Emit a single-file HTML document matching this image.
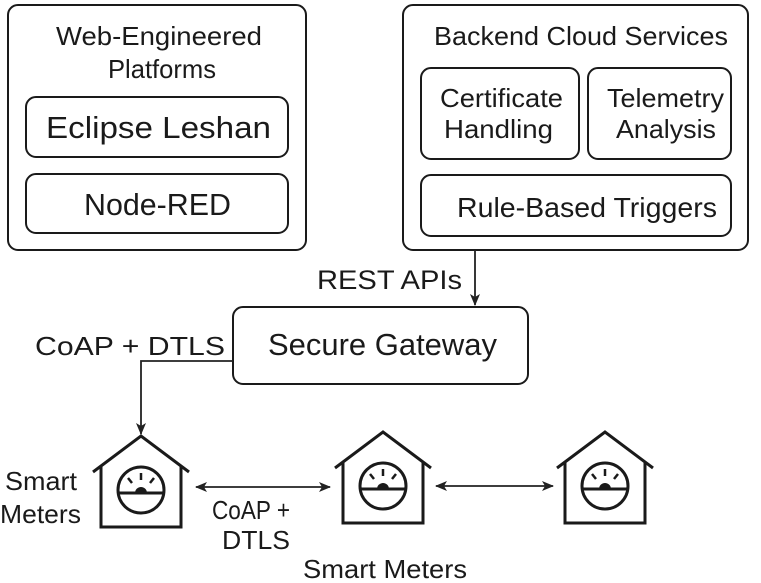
<!DOCTYPE html>
<html><head><meta charset="utf-8"><style>
html,body{margin:0;padding:0;background:#fff;}
svg{display:block;font-family:"Liberation Sans",Arial,sans-serif;}
</style></head><body>
<svg width="761" height="583" viewBox="0 0 761 583" xmlns="http://www.w3.org/2000/svg">
<defs>
<marker id="ah" markerWidth="12" markerHeight="10" refX="11" refY="5" orient="auto-start-reverse" markerUnits="userSpaceOnUse">
<path d="M0,0 L12,5 L0,10 L3,5 Z" fill="#222"/></marker>
<g id="house">
<polyline points="-48,36 0,0 48,36" fill="none" stroke="#1a1a1a" stroke-width="3"/>
<polyline points="-40,30 -40,91 40,91 40,30" fill="none" stroke="#1a1a1a" stroke-width="3"/>
<circle cx="0" cy="54" r="23" fill="none" stroke="#1a1a1a" stroke-width="3"/>
<line x1="-23" y1="57" x2="23" y2="57" stroke="#1a1a1a" stroke-width="3"/>
<path d="M-6,57 A6,6 0 0 1 6,57 Z" fill="#1a1a1a"/>
<line x1="0" y1="37" x2="0" y2="44" stroke="#1a1a1a" stroke-width="2.5"/>
<line x1="-13" y1="42" x2="-9" y2="47" stroke="#1a1a1a" stroke-width="2.5"/>
<line x1="13" y1="42" x2="9" y2="47" stroke="#1a1a1a" stroke-width="2.5"/>
</g>
</defs>
<g fill="none" stroke="#1a1a1a" stroke-width="2">
<rect x="8" y="5" width="298" height="245" rx="10"/>
<rect x="26" y="97" width="262" height="60" rx="10"/>
<rect x="26" y="174" width="262" height="59" rx="10"/>
<rect x="403" y="5" width="345" height="245" rx="10"/>
<rect x="421" y="68" width="158" height="91" rx="10"/>
<rect x="588" y="68" width="143" height="91" rx="10"/>
<rect x="421" y="175" width="310" height="61" rx="10"/>
<rect x="233" y="307" width="295" height="77" rx="10"/>
</g>
<g fill="#1a1a1a">
<text x="56" y="45" font-size="26" textLength="206" lengthAdjust="spacingAndGlyphs">Web-Engineered</text>
<text x="108" y="78" font-size="26" textLength="108" lengthAdjust="spacingAndGlyphs">Platforms</text>
<text x="46" y="138" font-size="31" textLength="225" lengthAdjust="spacingAndGlyphs">Eclipse Leshan</text>
<text x="84" y="215" font-size="31" textLength="147" lengthAdjust="spacingAndGlyphs">Node-RED</text>
<text x="434" y="45" font-size="26" textLength="294" lengthAdjust="spacingAndGlyphs">Backend Cloud Services</text>
<text x="440" y="107" font-size="26" textLength="123" lengthAdjust="spacingAndGlyphs">Certificate</text>
<text x="444" y="138" font-size="26" textLength="109" lengthAdjust="spacingAndGlyphs">Handling</text>
<text x="607" y="107" font-size="26" textLength="117" lengthAdjust="spacingAndGlyphs">Telemetry</text>
<text x="616" y="138" font-size="26" textLength="100" lengthAdjust="spacingAndGlyphs">Analysis</text>
<text x="457" y="217" font-size="28" textLength="260" lengthAdjust="spacingAndGlyphs">Rule-Based Triggers</text>
<text x="268" y="355" font-size="31" textLength="229" lengthAdjust="spacingAndGlyphs">Secure Gateway</text>
<text x="317" y="289" font-size="27" textLength="145" lengthAdjust="spacingAndGlyphs">REST APIs</text>
<text x="35" y="355" font-size="26" textLength="190" lengthAdjust="spacingAndGlyphs">CoAP + DTLS</text>
<text x="5" y="490" font-size="26" textLength="72" lengthAdjust="spacingAndGlyphs">Smart</text>
<text x="0" y="523" font-size="26" textLength="81" lengthAdjust="spacingAndGlyphs">Meters</text>
<text x="212" y="519" font-size="26" textLength="78" lengthAdjust="spacingAndGlyphs">CoAP +</text>
<text x="222" y="549" font-size="26" textLength="68" lengthAdjust="spacingAndGlyphs">DTLS</text>
<text x="303" y="578" font-size="26" textLength="164" lengthAdjust="spacingAndGlyphs">Smart Meters</text>
</g>
<g stroke="#222" stroke-width="1.8" fill="none">
<line x1="475" y1="250" x2="475" y2="305" marker-end="url(#ah)"/>
<polyline points="233,361 141,361 141,434" marker-end="url(#ah)"/>
<line x1="196" y1="487" x2="330" y2="487" marker-start="url(#ah)" marker-end="url(#ah)"/>
<line x1="436" y1="486" x2="553" y2="486" marker-start="url(#ah)" marker-end="url(#ah)"/>
</g>
<use href="#house" x="141" y="436"/>
<use href="#house" x="383" y="432"/>
<use href="#house" x="605" y="432"/>
</svg>
</body></html>
